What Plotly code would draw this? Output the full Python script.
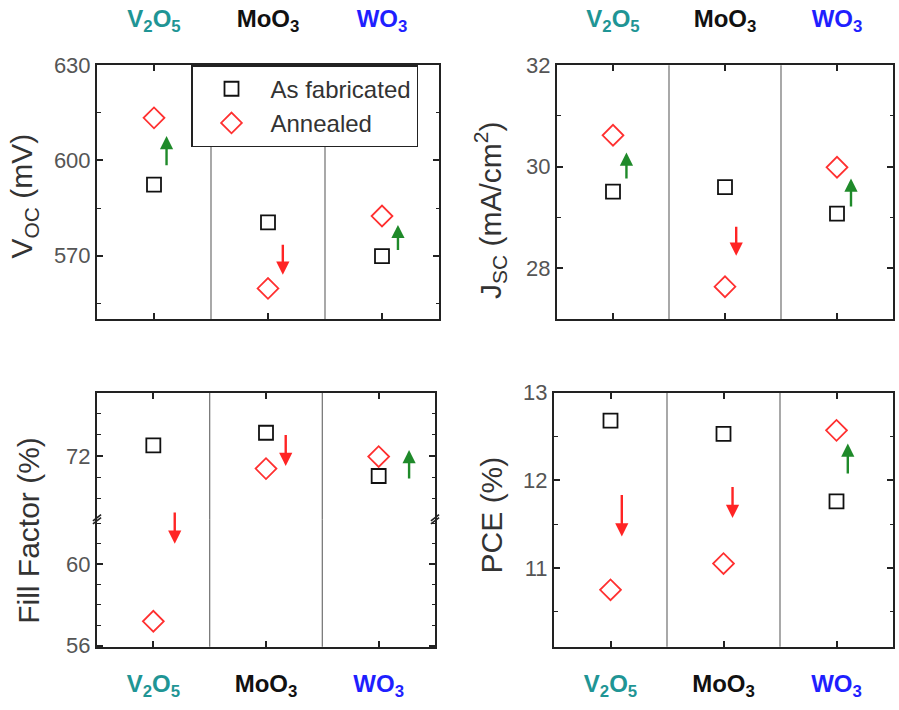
import plotly.graph_objects as go

# ---------------- data ----------------
categories = ["V<sub>2</sub>O<sub>5</sub>", "MoO<sub>3</sub>", "WO<sub>3</sub>"]
cat_colors = ["#1f9595", "#111111", "#1f1fff"]
xpos = [1, 2, 3]

voc_fab = [592.4, 580.5, 569.9]
voc_ann = [613.4, 559.7, 582.5]
jsc_fab = [29.51, 29.60, 29.08]
jsc_ann = [30.62, 27.64, 29.99]
ff_fab = [72.5, 73.1, 71.05]
ff_ann = [57.2, 71.4, 71.97]
pce_fab = [12.68, 12.53, 11.76]
pce_ann = [10.75, 11.05, 12.57]

# change arrows: x position, tail value, head value
voc_arrow_x = [1.11, 2.13, 3.14]
voc_arrow_from = [598.0, 573.9, 571.3]
voc_arrow_to = [607.7, 564.0, 579.7]
jsc_arrow_x = [1.12, 2.10, 3.125]
jsc_arrow_from = [29.74, 28.85, 29.19]
jsc_arrow_to = [30.28, 28.25, 29.77]
ff_arrow_x = [1.19, 2.175, 3.27]
ff_arrow_from = [62.6, 73.07, 70.86]
ff_arrow_to = [61.0, 71.53, 72.28]
pce_arrow_x = [1.10, 2.08, 3.10]
pce_arrow_from = [11.85, 11.94, 12.06]
pce_arrow_to = [11.36, 11.57, 12.42]

ff_break = 65.0  # values below are on the lower (broken) segment

# ---------------- style ----------------
FONT = "Liberation Sans, Arial, sans-serif"
LINE = "#222222"
UP = "#1f8a2a"
DOWN = "#ff2424"
SQ = "#111111"
DM = "#ff3030"

W, H = 899, 710
def px(x):
    return x / W
def py(y):
    return 1 - y / H

ticktext = [f"<b><span style='color:{c}'>{t}</span></b>" for t, c in zip(categories, cat_colors)]

fig = go.Figure()

def add_pair(xa, ya, fab, ann, legend=False):
    fig.add_trace(go.Scatter(x=xpos, y=fab, mode="markers", name="As fabricated",
                             xaxis=xa, yaxis=ya, showlegend=legend,
                             marker=dict(symbol="square-open", size=14, color=SQ,
                                         line=dict(width=1.8, color=SQ))))
    fig.add_trace(go.Scatter(x=xpos, y=ann, mode="markers", name="Annealed",
                             xaxis=xa, yaxis=ya, showlegend=legend,
                             marker=dict(symbol="diamond-open", size=16, color=DM,
                                         line=dict(width=1.8, color=DM))))

add_pair("x", "y", voc_fab, voc_ann, legend=True)
add_pair("x2", "y2", jsc_fab, jsc_ann)
add_pair("x3", "y3", ff_fab, ff_ann)
add_pair("x5", "y5", ff_fab, ff_ann)
add_pair("x4", "y4", pce_fab, pce_ann)

annotations = []
def add_arrows(xa, ya, xs, y0s, y1s, ya_func=None):
    for x, a, b in zip(xs, y0s, y1s):
        yref = ya_func(b) if ya_func else ya
        annotations.append(dict(
            x=x, y=b, ax=x, ay=a, xref=xa, yref=yref, axref=xa, ayref=yref,
            text="", showarrow=True, arrowhead=2, arrowsize=1.1, arrowwidth=2.4,
            arrowcolor=UP if b > a else DOWN, standoff=0, startstandoff=0))

add_arrows("x", "y", voc_arrow_x, voc_arrow_from, voc_arrow_to)
add_arrows("x2", "y2", jsc_arrow_x, jsc_arrow_from, jsc_arrow_to)
add_arrows("x3", "y3", ff_arrow_x, ff_arrow_from, ff_arrow_to,
           ya_func=lambda v: "y3" if v < ff_break else "y5")
add_arrows("x4", "y4", pce_arrow_x, pce_arrow_from, pce_arrow_to)

# y-axis titles
TITLE_FONT = dict(family=FONT, size=30, color="#333333")
for txt, x, y in [("V<sub>OC</sub> (mV)", 24, 191),
                  ("J<sub>SC</sub> (mA/cm<sup>2</sup>)", 490, 205),
                  ("Fill Factor (%)", 29, 537),
                  ("PCE (%)", 491, 521)]:
    annotations.append(dict(text=txt, x=px(x), y=py(y), xref="paper", yref="paper",
                            showarrow=False, textangle=-90, font=TITLE_FONT,
                            xanchor="center", yanchor="middle"))

shapes = []
# dividers between materials
for xa, ya in [("x", "y"), ("x2", "y2"), ("x3", "y3"), ("x5", "y5"), ("x4", "y4")]:
    for xd in [1.5, 2.5]:
        shapes.append(dict(type="line", xref=xa, yref=f"{ya} domain", x0=xd, x1=xd,
                           y0=0, y1=1, line=dict(color="#7a7a7a", width=1.3), layer="below"))
# axis break marks on the fill factor panel
for xd in [0, 1]:
    for dy in [-0.012, 0.012]:
        shapes.append(dict(type="line", xref="x3 domain", yref="y3 domain",
                           x0=xd - 0.012, x1=xd + 0.012, y0=1 + dy - 0.025, y1=1 + dy + 0.025,
                           line=dict(color=LINE, width=1.6)))

TICKFONT = dict(family=FONT, size=22, color="#555555")
CATFONT = dict(family=FONT, size=24, color="#111111")

def xaxis(domain, anchor, side, labels=True, mirror="ticks", standoff=10):
    return dict(domain=domain, anchor=anchor, range=[0.5, 3.5], side=side,
                tickvals=xpos, ticktext=ticktext, showticklabels=labels,
                ticks="inside", ticklen=6, tickwidth=1.5, tickcolor=LINE,
                showline=True, linecolor=LINE, linewidth=2, mirror=mirror,
                showgrid=False, zeroline=False, tickfont=CATFONT,
                ticklabelstandoff=standoff, fixedrange=True)

def yaxis(domain, anchor, rng, dtick, minor):
    return dict(domain=domain, anchor=anchor, range=rng, dtick=dtick, tick0=0,
                ticks="inside", ticklen=6, tickwidth=1.5, tickcolor=LINE,
                showline=True, linecolor=LINE, linewidth=2, mirror="ticks",
                showgrid=False, zeroline=False, tickfont=TICKFONT,
                minor=dict(dtick=minor, tick0=0, ticks="inside", ticklen=3.5,
                           tickwidth=1.3, tickcolor=LINE, showgrid=False),
                fixedrange=True)

xTL = [px(97), px(439)]
xTR = [px(557), px(893)]
xBL = [px(97), px(435)]
xBR = [px(554), px(893)]
yTop = [py(318), py(55)]
yBot = [py(657), py(394)]
yBreak = py(525)

fig.update_layout(
    width=W, height=H, margin=dict(l=0, r=0, t=0, b=0),
    paper_bgcolor="white", plot_bgcolor="white",
    font=dict(family=FONT),
    xaxis=xaxis(xTL, "y", "top", standoff=27),
    yaxis=yaxis(yTop, "x", [550, 630], 30, 15),
    xaxis2=xaxis(xTR, "y2", "top", standoff=27),
    yaxis2=yaxis(yTop, "x2", [27, 32], 2, 1),
    xaxis3=xaxis(xBL, "y3", "bottom", mirror=False, standoff=14),
    yaxis3=yaxis([yBot[0], yBreak], "x3", [55.95, 62.2], 4, 1),
    xaxis5=xaxis(xBL, "y5", "top", labels=False, mirror=False),
    yaxis5=yaxis([yBreak, yBot[1]], "x5", [69, 75], 4, 1),
    xaxis4=xaxis(xBR, "y4", "bottom", standoff=14),
    yaxis4=yaxis(yBot, "x4", [10.1, 13], 1, 0.5),
    legend=dict(x=px(191), y=py(55), xanchor="left", yanchor="top",
                bgcolor="white", bordercolor=LINE, borderwidth=1.5,
                font=dict(family=FONT, size=24, color="#333333"),
                itemwidth=68, tracegroupgap=0),
    annotations=annotations,
    shapes=shapes,
)

fig.write_html("out.html")
